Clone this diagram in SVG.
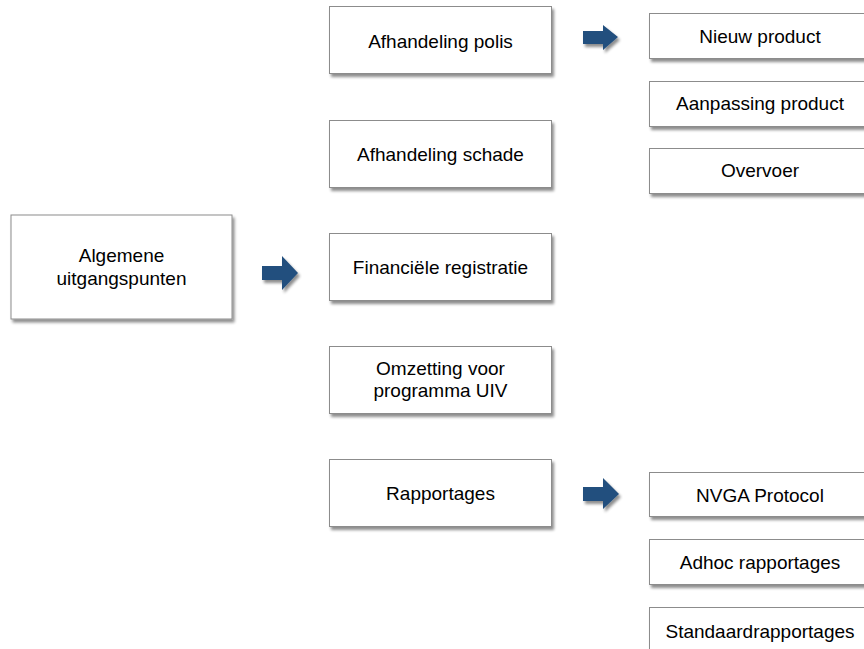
<svg xmlns="http://www.w3.org/2000/svg" width="864" height="649" viewBox="0 0 864 649">
<defs>
<filter id="sh" x="-10%" y="-10%" width="130%" height="140%">
<feGaussianBlur in="SourceAlpha" stdDeviation="1.5"/>
<feOffset dx="2" dy="3" result="b"/>
<feComponentTransfer><feFuncA type="linear" slope="0.45"/></feComponentTransfer>
<feMerge><feMergeNode/><feMergeNode in="SourceGraphic"/></feMerge>
</filter>
</defs>
<style>
.box{fill:#fff;stroke:#8c8c8c;stroke-width:1;filter:url(#sh)}
.t{font-family:"Liberation Sans",Arial,sans-serif;font-size:19px;fill:#000;text-anchor:middle}
.arr{fill:#24507e;filter:url(#sh)}
</style>
<rect width="864" height="649" fill="#fff"/>
<g id="n-algemene"><rect class="box" x="11" y="215" width="221" height="104"/><text class="t" x="121.5" y="262">Algemene</text><text class="t" x="121.5" y="285">uitgangspunten</text></g>
<g id="n-polis"><rect class="box" x="329.5" y="6.5" width="222" height="67"/><text class="t" x="440.5" y="48">Afhandeling polis</text></g>
<g id="n-schade"><rect class="box" x="329.5" y="120.5" width="222" height="67"/><text class="t" x="440.5" y="161">Afhandeling schade</text></g>
<g id="n-fin"><rect class="box" x="329.5" y="233.5" width="222" height="67"/><text class="t" x="440.5" y="274">Financiële registratie</text></g>
<g id="n-omz"><rect class="box" x="329.5" y="346.5" width="222" height="67"/><text class="t" x="440.5" y="375">Omzetting voor</text><text class="t" x="440.5" y="397">programma UIV</text></g>
<g id="n-rap"><rect class="box" x="329.5" y="459.5" width="222" height="67"/><text class="t" x="440.5" y="500">Rapportages</text></g>
<g id="n-nieuw"><rect class="box" x="649.5" y="13.5" width="222" height="45"/><text class="t" x="760" y="43">Nieuw product</text></g>
<g id="n-aanp"><rect class="box" x="649.5" y="81.5" width="222" height="45"/><text class="t" x="760" y="110">Aanpassing product</text></g>
<g id="n-overvoer"><rect class="box" x="649.5" y="148.5" width="222" height="45"/><text class="t" x="760" y="177">Overvoer</text></g>
<g id="n-nvga"><rect class="box" x="649.5" y="472.5" width="222" height="44"/><text class="t" x="760" y="502">NVGA Protocol</text></g>
<g id="n-adhoc"><rect class="box" x="649.5" y="539.5" width="222" height="45"/><text class="t" x="760" y="569">Adhoc rapportages</text></g>
<g id="n-std"><rect class="box" x="649.5" y="607.5" width="222" height="45"/><text class="t" x="760" y="638">Standaardrapportages</text></g>
<g id="connectors">
<polygon class="arr" points="262,266 282,266 282,256 298,273 282,290 282,280 262,280"/>
<polygon class="arr" points="583,31 603,31 603,25 618,37 603,50 603,44 583,44"/>
<polygon class="arr" points="583,487 603,487 603,478 619,494 603,509 603,501 583,501"/>
</g>
</svg>
